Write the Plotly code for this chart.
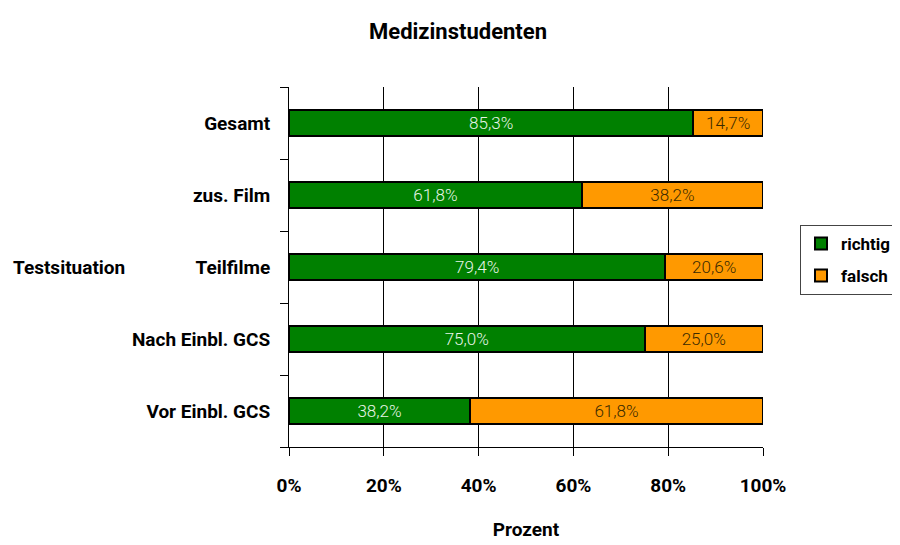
import plotly.graph_objects as go

categories = ["Vor Einbl. GCS", "Nach Einbl. GCS", "Teilfilme", "zus. Film", "Gesamt"]
richtig = [0.382, 0.750, 0.794, 0.618, 0.853]
falsch = [0.618, 0.250, 0.206, 0.382, 0.147]
x_ticks = [0, 0.2, 0.4, 0.6, 0.8, 1.0]

FONT = "Roboto, Liberation Sans Narrow, sans-serif"

fig = go.Figure()
fig.add_trace(go.Bar(
    y=categories, x=richtig, name="richtig", orientation="h", legendgroup="r",
    marker=dict(color="#008000", line=dict(color="black", width=2)),
    texttemplate="%{x:.1%}", textposition="inside", insidetextanchor="middle",
    textfont=dict(family=FONT, size=19, color="#e8f5e8", weight=300),
    width=0.37,
))
fig.add_trace(go.Bar(
    y=categories, x=falsch, name="falsch", orientation="h", legendgroup="f",
    marker=dict(color="#FF9900", line=dict(color="black", width=2)),
    texttemplate="%{x:.1%}", textposition="inside", insidetextanchor="middle",
    textfont=dict(family=FONT, size=19, color="#3a2a00", weight=300),
    width=0.37,
))

fig.update_layout(
    barmode="stack",
    separators=",.",
    width=900, height=545,
    margin=dict(l=281, r=145, t=79, b=106, autoexpand=False),
    paper_bgcolor="white", plot_bgcolor="white",
    font=dict(family=FONT, size=18, color="black"),
    title=dict(text="<b>Medizinstudenten</b>", x=0.5, xanchor="center", y=0.958, yanchor="middle",
               font=dict(family=FONT, size=22, color="black")),
    xaxis=dict(
        range=[0, 1], tickvals=x_ticks, tickformat=".0%",
        showgrid=True, gridcolor="black", gridwidth=1,
        showline=True, linecolor="black", linewidth=1,
        ticks="outside", ticklen=8, tickcolor="black", ticklabelstandoff=13,
        tickfont=dict(family=FONT, size=19, color="black", weight="bold"),
        title=dict(text="<b>Prozent</b>", font=dict(family=FONT, size=19), standoff=26),
        zeroline=False, fixedrange=True, automargin=False,
    ),
    yaxis=dict(
        categoryorder="array", categoryarray=categories,
        showline=True, linecolor="black", linewidth=1,
        ticks="outside", ticklen=8, tickcolor="black", tickson="boundaries",
        ticklabelstandoff=14,
        tickfont=dict(family=FONT, size=19, color="black", weight="bold"),
        showgrid=False, fixedrange=True, automargin=False,
    ),
    legend=dict(
        x=(800 - 289) / 474, xanchor="left", y=0.617, yanchor="top",
        bordercolor="#444", borderwidth=1, bgcolor="white",
        font=dict(family=FONT, size=17, color="black", weight="bold"),
        traceorder="grouped", tracegroupgap=7, itemwidth=30,
    ),
    annotations=[dict(
        text="<b>Testsituation</b>", xref="paper", yref="paper",
        x=(127 - 289) / 474, xanchor="right", y=0.5, yanchor="middle",
        showarrow=False, font=dict(family=FONT, size=19, color="black"),
    )],
)

fig.write_html("out.html")
